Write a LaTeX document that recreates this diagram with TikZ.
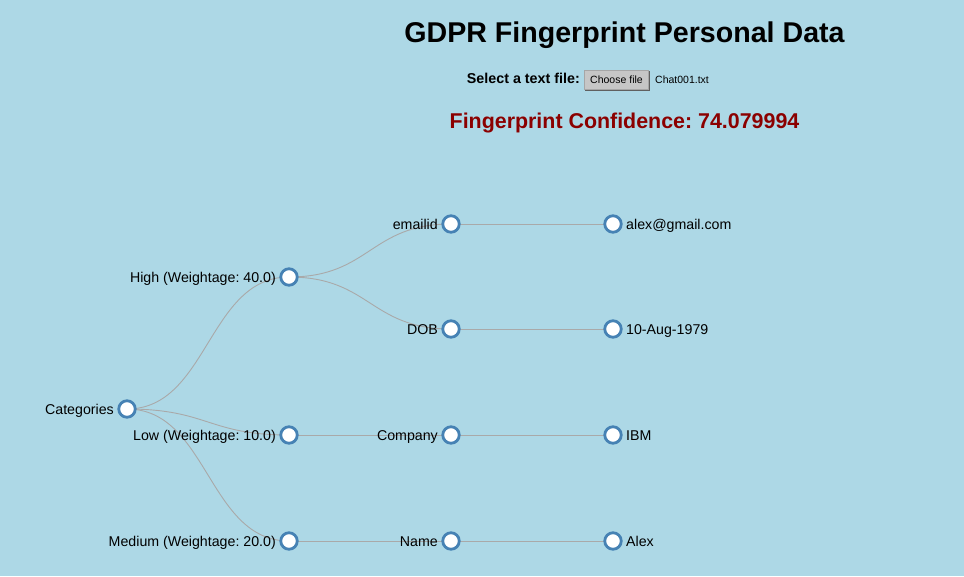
\documentclass[tikz,border=0pt]{standalone}
\usepackage{fontspec}
\setmainfont{Liberation Sans}
\usetikzlibrary{backgrounds}
\definecolor{pagebg}{HTML}{ADD8E6}
\definecolor{ringblue}{HTML}{4682B4}
\definecolor{linkgray}{HTML}{A9A9A9}
\definecolor{scorered}{HTML}{8B0000}
\frenchspacing
\tikzset{
    dot/.style={circle, draw=ringblue, line width=2.8pt, fill=white, minimum size=16.5pt, inner sep=0pt},
    link/.style={draw=linkgray, line width=0.9pt},
    lbl/.style={inner sep=0pt, font=\fontsize{14.2}{16}\selectfont},
}
\NewDocumentCommand{\innerdot}{m m m m}{
    \node[dot] (#1) at (#2,#3) {};
    \node[lbl, anchor=base east] (#1-t) at ([xshift=-13pt, yshift=-5.6pt]#1.center) {#4};
}
\NewDocumentCommand{\leafdot}{m m m m}{
    \node[dot] (#1) at (#2,#3) {};
    \node[lbl, anchor=base west] (#1-t) at ([xshift=13pt, yshift=-5.6pt]#1.center) {#4};
}
\NewDocumentCommand{\branch}{m m}{
    \draw[link] (#1.center) .. controls ([xshift=81pt]#1.center) and ([xshift=-81pt]#2.center) .. (#2.center);
}
\begin{document}
\begin{tikzpicture}[x=1pt, y=-1pt]
    \begin{scope}[on background layer]
        \fill[pagebg] (0,0) rectangle (964,576);
    \end{scope}
    \useasboundingbox (0,0) rectangle (964,576);

    % header
    \node[inner sep=0pt, anchor=base, font=\bfseries\fontsize{28.6}{30}\selectfont] (title) at (624.5,42) {GDPR Fingerprint Personal Data};
    \node[inner sep=0pt, anchor=base east, font=\bfseries\fontsize{14.3}{16}\selectfont] (pick) at (580,83) {Select a text file:};
    \fill[gray!75!black] (585,71) rectangle (650,91);
    \node[draw=gray!70, fill=gray!45!white, minimum width=64pt, minimum height=19pt, inner sep=0pt,
          font=\fontsize{10.5}{12}\selectfont] (btn) at (616.5,79.5) {Choose file};
    \node[inner sep=0pt, anchor=base west, font=\fontsize{10.5}{12}\selectfont] (fname) at (655,83) {Chat001.txt};
    \node[inner sep=0pt, anchor=base, text=scorered, font=\bfseries\fontsize{21.4}{23}\selectfont] (score) at (624.5,128) {Fingerprint Confidence: 74.079994};

    % tree, column by column
    \def\a{127}
    \def\b{289}
    \def\c{451}
    \def\d{613}
    \innerdot{cat}{\a}{409}{Categories}

    \innerdot{high}{\b}{277}{High (Weightage: 40.0)}
    \innerdot{low}{\b}{435}{Low (Weightage: 10.0)}
    \innerdot{med}{\b}{541}{Medium (Weightage: 20.0)}

    \innerdot{email}{\c}{224}{emailid}
    \innerdot{dob}{\c}{329}{DOB}
    \innerdot{comp}{\c}{435}{Company}
    \innerdot{name}{\c}{541}{Name}

    \leafdot{emailv}{\d}{224}{alex@gmail.com}
    \leafdot{dobv}{\d}{329}{10-Aug-1979}
    \leafdot{compv}{\d}{435}{IBM}
    \leafdot{namev}{\d}{541}{Alex}

    % links go under the dots
    \begin{scope}[on background layer]
        \branch{cat}{high}
        \branch{cat}{low}
        \branch{cat}{med}
        \branch{high}{email}
        \branch{high}{dob}
        \branch{low}{comp}
        \branch{med}{name}
        \branch{email}{emailv}
        \branch{dob}{dobv}
        \branch{comp}{compv}
        \branch{name}{namev}
    \end{scope}
\end{tikzpicture}
\end{document}
